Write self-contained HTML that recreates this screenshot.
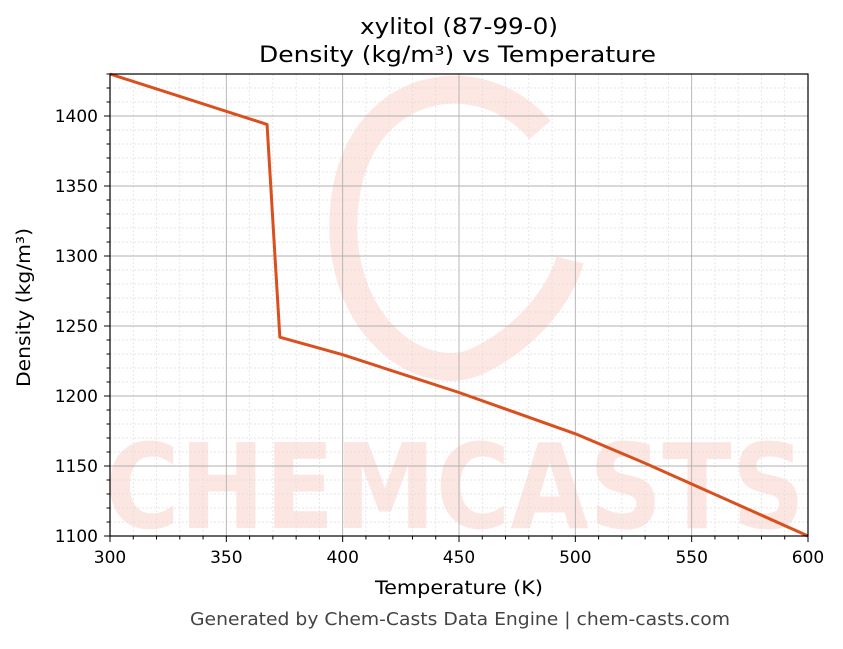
<!DOCTYPE html>
<html><head><meta charset="utf-8"><style>
body{margin:0;background:#fff;}
svg text{font-family:"DejaVu Sans","Liberation Sans",sans-serif;}
</style></head><body>
<svg width="843" height="644" viewBox="0 0 843 644" xmlns="http://www.w3.org/2000/svg">
<g opacity="0.16">
<path d="M540,130 C480,60 360,80 345,200 C330,320 420,390 480,360 C540,330 565,280 570,260" fill="none" stroke="#f26b4f" stroke-width="28"/>
<text x="455" y="528" font-size="118" font-weight="bold" fill="#f26b4f" text-anchor="middle" textLength="700" lengthAdjust="spacingAndGlyphs">CHEMCASTS</text>
</g>
<g id="grid"></g>
<g id="series"></g>
<rect x="110" y="74" width="698" height="462" fill="none" stroke="#000" stroke-width="1.2"/>
<g id="ticks"></g>
<text x="360" y="34" font-size="22" textLength="198" lengthAdjust="spacingAndGlyphs">xylitol (87-99-0)</text>
<text x="259" y="62" font-size="22" textLength="397" lengthAdjust="spacingAndGlyphs">Density (kg/m³) vs Temperature</text>
<text x="375" y="594" font-size="18.5" textLength="168" lengthAdjust="spacingAndGlyphs">Temperature (K)</text>
<text transform="translate(30,387) rotate(-90)" font-size="18.5" textLength="159" lengthAdjust="spacingAndGlyphs">Density (kg/m³)</text>
<text x="190" y="625" font-size="17.5" fill="#444" textLength="540" lengthAdjust="spacingAndGlyphs">Generated by Chem-Casts Data Engine | chem-casts.com</text>
</svg>
<script>
const temps=[300,367.5,373,400,450,500,530,600];
const density=[1430,1394,1242,1229.5,1202.5,1173,1152,1100];
const xTicks=[300,350,400,450,500,550,600];
const yTicks=[1100,1150,1200,1250,1300,1350,1400];
const X0=110,X1=808,Y0=536,Y1=74,xmin=300,xmax=600,ymin=1100,ymax=1430;
const sx=v=>X0+(v-xmin)/(xmax-xmin)*(X1-X0);
const sy=v=>Y0-(v-ymin)/(ymax-ymin)*(Y0-Y1);
const NS='http://www.w3.org/2000/svg';
function mk(tag,attrs,parent){const e=document.createElementNS(NS,tag);for(const k in attrs)e.setAttribute(k,attrs[k]);parent.appendChild(e);return e;}
const grid=document.getElementById('grid'),ticks=document.getElementById('ticks'),series=document.getElementById('series');
for(let v=xmin;v<=xmax;v+=10){if(v%50){const l=mk('line',{x1:sx(v),x2:sx(v),y1:Y0,y2:Y1,stroke:'#ddd','stroke-width':0.7,'stroke-dasharray':'2,2'},grid);
const t=mk('line',{x1:sx(v),x2:sx(v),y1:Y0,y2:Y0+3.5,stroke:'#000'},ticks);}}
for(let v=ymin;v<=ymax;v+=10){if(v%50){const l=mk('line',{x1:X0,x2:X1,y1:sy(v),y2:sy(v),stroke:'#ddd','stroke-width':0.7,'stroke-dasharray':'2,2'},grid);
const t=mk('line',{x1:X0,x2:X0-3.5,y1:sy(v),y2:sy(v),stroke:'#000'},ticks);}}
xTicks.forEach(v=>{const l=mk('line',{x1:sx(v),x2:sx(v),y1:Y0,y2:Y1,stroke:'#b0b0b0','stroke-width':0.9},grid);
const t=mk('line',{x1:sx(v),x2:sx(v),y1:Y0,y2:Y0+6,stroke:'#000'},ticks);
const tx=mk('text',{x:sx(v),y:Y0+27,'font-size':17,'text-anchor':'middle'},ticks);tx.textContent=v;});
yTicks.forEach(v=>{const l=mk('line',{x1:X0,x2:X1,y1:sy(v),y2:sy(v),stroke:'#b0b0b0','stroke-width':0.9},grid);
const t=mk('line',{x1:X0,x2:X0-6,y1:sy(v),y2:sy(v),stroke:'#000'},ticks);
const tx=mk('text',{x:X0-12,y:sy(v)+6,'font-size':17,'text-anchor':'end'},ticks);tx.textContent=v;});
const p=mk('polyline',{points:temps.map((t,i)=>sx(t)+','+sy(density[i])).join(' '),fill:'none',stroke:'#d9501e','stroke-width':3,'stroke-linejoin':'round'},series);


</script>
</body></html>
